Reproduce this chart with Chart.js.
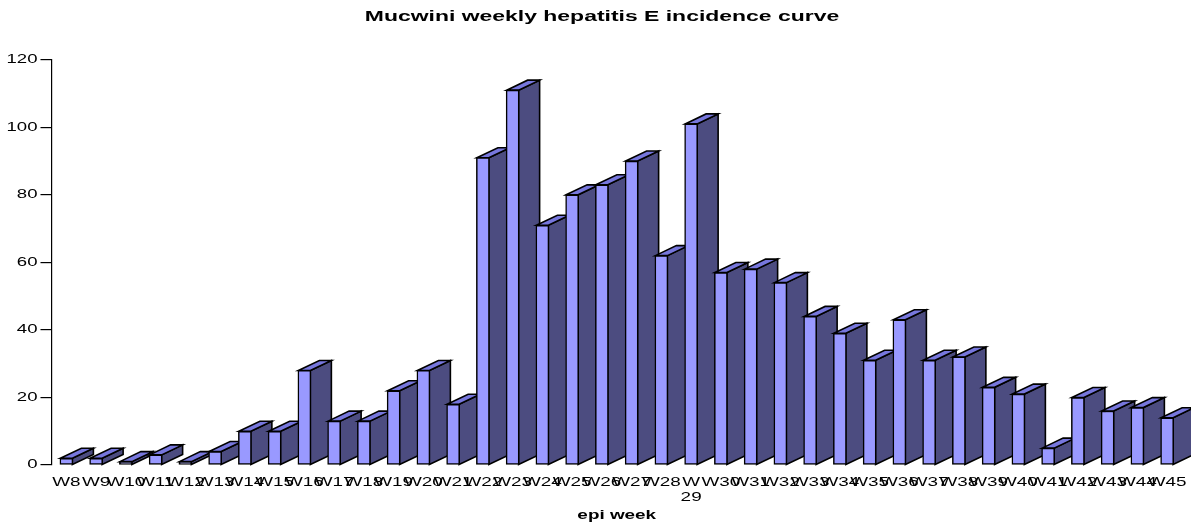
<!DOCTYPE html>
<html>
<head>
<meta charset="utf-8">
<style>
html,body{margin:0;padding:0;background:#fff;}
#wrap{width:1191px;height:523px;position:relative;}
</style>
<script src="https://cdn.jsdelivr.net/npm/chart.js@4"></script>
</head>
<body>
<div id="wrap"><canvas id="c" width="1191" height="523"></canvas></div>
<script>
const categories = ["W8","W9","W10","W11","W12","W13","W14","W15","W16","W17","W18","W19","W20","W21","W22","W23","W24","W25","W26","W27","W28",["W","29"],"W30","W31","W32","W33","W34","W35","W36","W37","W38","W39","W40","W41","W42","W43","W44","W45"];
const cases = [2,2,1,3,1,4,10,10,28,13,13,22,28,18,91,111,71,80,83,90,62,101,57,58,54,44,39,31,43,31,32,23,21,5,20,16,17,14];
const yTicks = [0,20,40,60,80,100,120];
const chartTitle = "Mucwini weekly hepatitis E incidence curve";
const xTitle = "epi week";

const FRONT = "#9999ff", SIDE = "#4c4c80", TOP = "#7777dd", EDGE = "#000";
const DX = 21, DY = 10, STRETCH = 1.5;

// The reference uses horizontally stretched lettering
const stretchText = {
  id: "stretchText",
  beforeInit(chart) {
    const ctx = chart.ctx, orig = ctx.fillText.bind(ctx);
    ctx.fillText = function (t, x, y, m) {
      ctx.save();
      ctx.translate(x, y);
      ctx.scale(STRETCH, 1);
      orig(t, 0, 0, m);
      ctx.restore();
    };
  },
  // the reference title sits a little right of the canvas centre
  afterLayout(chart) { chart.titleBlock.left += 22; }
};

// Side and top faces of each bar, taken from the bar elements
const depthFaces = {
  id: "depthFaces",
  beforeDatasetsDraw(chart) {
    const ctx = chart.ctx;
    const bars = chart.getDatasetMeta(0).data;
    ctx.save();
    ctx.lineWidth = 1.6;
    ctx.strokeStyle = EDGE;
    ctx.lineJoin = "miter";
    bars.forEach(b => {
      const r = b.x + b.width / 2 - 0.5, l = b.x - b.width / 2 + 0.5, y = b.y, base = b.base;
      ctx.beginPath();
      ctx.moveTo(r, y); ctx.lineTo(r + DX, y - DY); ctx.lineTo(r + DX, base - DY); ctx.lineTo(r, base);
      ctx.closePath();
      ctx.fillStyle = SIDE; ctx.fill(); ctx.stroke();
      ctx.beginPath();
      ctx.moveTo(l, y); ctx.lineTo(l + DX, y - DY); ctx.lineTo(r + DX, y - DY); ctx.lineTo(r, y);
      ctx.closePath();
      ctx.fillStyle = TOP; ctx.fill(); ctx.stroke();
    });
    ctx.restore();
  }
};

new Chart(document.getElementById("c"), {
  type: "bar",
  data: {
    labels: categories,
    datasets: [{
      data: cases,
      backgroundColor: FRONT,
      borderColor: EDGE,
      borderWidth: 1.5,
      borderSkipped: false,
      barThickness: 13
    }]
  },
  plugins: [stretchText, depthFaces],
  options: {
    responsive: false,
    animation: false,
    layout: { padding: { left: 0, right: 9, top: 0, bottom: 0 } },
    plugins: {
      legend: { display: false },
      tooltip: { enabled: false },
      title: {
        display: true,
        text: chartTitle,
        color: "#000",
        font: { family: "Liberation Sans", size: 15.3, weight: "bold", lineHeight: 1.2 },
        padding: { top: 7.6, bottom: 33.8 }
      }
    },
    scales: {
      x: {
        offset: true,
        grid: { display: false, drawTicks: false },
        border: { display: false },
        afterFit(s) { s.height = 58; },
        ticks: {
          autoSkip: false, minRotation: 0, maxRotation: 0, padding: 10,
          color: "#000",
          font: { family: "Liberation Sans", size: 12.6, lineHeight: 1.2 }
        },
        title: {
          display: true, text: xTitle, color: "#000",
          padding: { top: 0, bottom: 0 },
          font: { family: "Liberation Sans", size: 12.6, weight: "bold" }
        }
      },
      y: {
        min: 0, max: 120,
        afterFit(s) { s.width = 51.5; },
        afterBuildTicks(s) { s.ticks = yTicks.map(v => ({ value: v })); },
        grid: { drawOnChartArea: false, drawTicks: true, tickLength: 11, color: "#000", lineWidth: 1.2 },
        border: { display: true, color: "#000", width: 1.2 },
        ticks: {
          padding: 3, color: "#000",
          font: { family: "Liberation Sans", size: 12.4 }
        }
      }
    }
  }
});
</script>
</body>
</html>
